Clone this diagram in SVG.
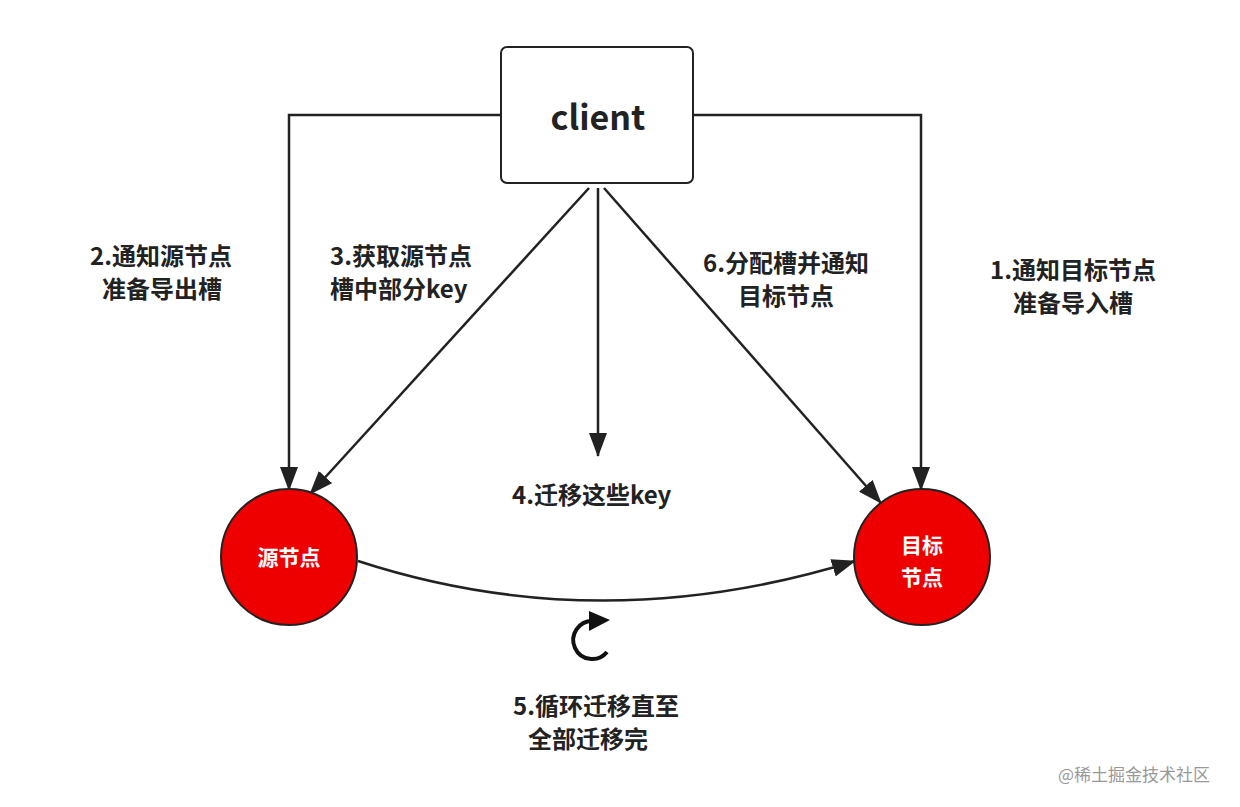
<svg xmlns="http://www.w3.org/2000/svg" width="1240" height="807" viewBox="0 0 1240 807">
<style>
text{font-family:"Noto Sans CJK SC","Liberation Sans",sans-serif;font-weight:bold;fill:#222}
.lbl{font-size:24px}
.ln{fill:none;stroke:#222;stroke-width:2.5}
.node{fill:#ee0000;stroke:#222;stroke-width:2}
.nt{font-size:21px;fill:#fff}
</style>
<defs>
<marker id="ah" viewBox="0 0 24 18" refX="23" refY="9" markerWidth="24" markerHeight="18" markerUnits="userSpaceOnUse" orient="auto">
<path d="M0,0 L24,9 L0,18 Z" fill="#222"/>
</marker>
</defs>
<rect width="1240" height="807" fill="#fff"/>
<g id="connectors">
<path class="ln" d="M501,115 H289 V490" marker-end="url(#ah)"/>
<path class="ln" d="M693,115 H921 V490" marker-end="url(#ah)"/>
<path class="ln" d="M589,188 L310,494" marker-end="url(#ah)"/>
<path class="ln" d="M598,188 V456" marker-end="url(#ah)"/>
<path class="ln" d="M604,188 L881,503" marker-end="url(#ah)"/>
<path class="ln" d="M358,561 Q600,640 855,561" marker-end="url(#ah)"/>
</g>
<g id="client">
<rect x="501" y="47" width="192" height="136" rx="6" fill="#fff" stroke="#222" stroke-width="2"/>
<text x="598" y="130" font-size="34" text-anchor="middle">client</text>
</g>
<g id="source">
<circle class="node" cx="289" cy="557" r="68"/>
<text class="nt" x="289" y="565" text-anchor="middle">源节点</text>
</g>
<g id="target">
<circle class="node" cx="922" cy="557" r="68"/>
<text class="nt" x="922" y="553" text-anchor="middle">目标</text>
<text class="nt" x="922" y="585" text-anchor="middle">节点</text>
</g>
<g id="loop">
<path d="M607,652 A19,19 0 1 1 593,621" fill="none" stroke="#111" stroke-width="4"/>
<path d="M589,611 L610,620 L589,631 Z" fill="#111"/>
</g>
<g id="labels">
<text class="lbl" x="90" y="265">2.通知源节点</text>
<text class="lbl" x="102" y="298">准备导出槽</text>
<text class="lbl" x="330" y="265">3.获取源节点</text>
<text class="lbl" x="330" y="298">槽中部分key</text>
<text class="lbl" x="703" y="272">6.分配槽并通知</text>
<text class="lbl" x="738" y="305">目标节点</text>
<text class="lbl" x="990" y="279">1.通知目标节点</text>
<text class="lbl" x="1013" y="312">准备导入槽</text>
<text class="lbl" x="512" y="504">4.迁移这些key</text>
<text class="lbl" x="513" y="715">5.循环迁移直至</text>
<text class="lbl" x="528" y="748">全部迁移完</text>
<text x="1058" y="781" font-size="17" style="font-weight:normal;fill:#999">@稀土掘金技术社区</text>
</g>
</svg>
